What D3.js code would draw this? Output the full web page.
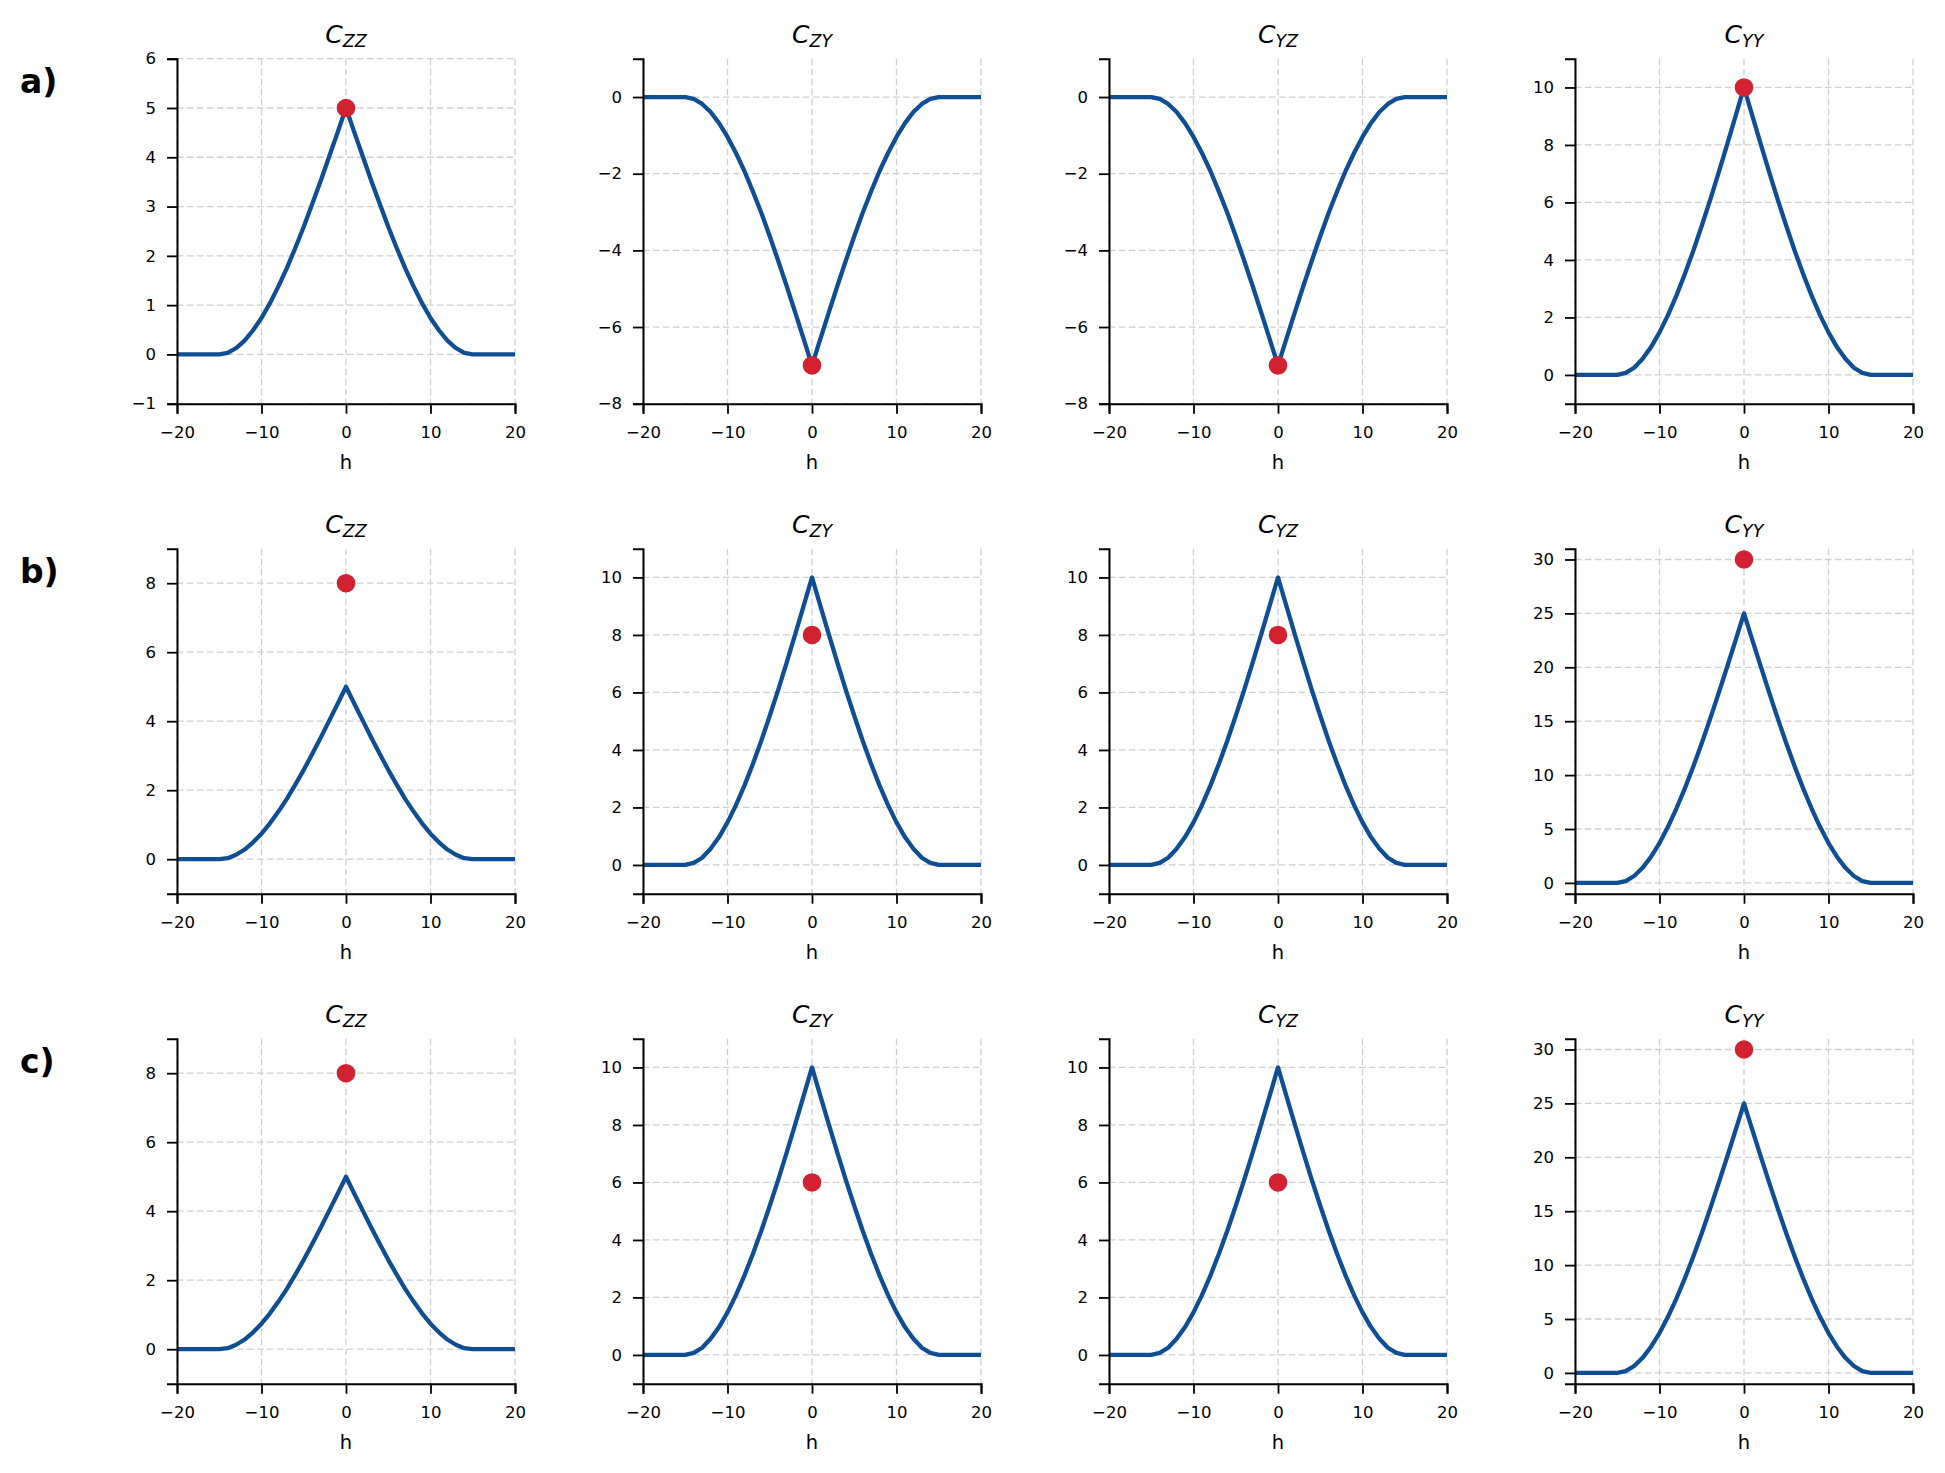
<!DOCTYPE html>
<html>
<head>
<meta charset="utf-8">
<script src="https://cdn.jsdelivr.net/npm/d3@7"></script>
<style>
  body { margin: 0; background: #fff; }
  svg { display: block; font-family: "DejaVu Sans", sans-serif; }
</style>
</head>
<body>
<div id="fig"></div>
<script>
// lag values shared by every curve
var hGrid = [-20, -15, -14, -13, -12, -11, -10, -9, -8, -7, -6, -5, -4, -3, -2, -1, 0,
             1, 2, 3, 4, 5, 6, 7, 8, 9, 10, 11, 12, 13, 14, 15, 20];

// covariance curves
var curveSill5 = [0, 0, 0.03, 0.13, 0.28, 0.49, 0.74, 1.04, 1.38, 1.75, 2.16, 2.59, 3.05, 3.52, 4.01, 4.50, 5,
                  4.50, 4.01, 3.52, 3.05, 2.59, 2.16, 1.75, 1.38, 1.04, 0.74, 0.49, 0.28, 0.13, 0.03, 0, 0];
var curveSill10 = [0, 0, 0.07, 0.25, 0.56, 0.97, 1.48, 2.08, 2.76, 3.51, 4.32, 5.19, 6.09, 7.04, 8.01, 9.00, 10,
                   9.00, 8.01, 7.04, 6.09, 5.19, 4.32, 3.51, 2.76, 2.08, 1.48, 0.97, 0.56, 0.25, 0.07, 0, 0];
var curveSillNeg7 = [0, 0, -0.05, -0.18, -0.39, -0.68, -1.04, -1.46, -1.93, -2.46, -3.02, -3.63, -4.27, -4.93, -5.61, -6.30, -7,
                     -6.30, -5.61, -4.93, -4.27, -3.63, -3.02, -2.46, -1.93, -1.46, -1.04, -0.68, -0.39, -0.18, -0.05, 0, 0];
var curveSill25 = [0, 0, 0.16, 0.64, 1.40, 2.43, 3.70, 5.20, 6.90, 8.77, 10.80, 12.96, 15.24, 17.60, 20.03, 22.50, 25,
                   22.50, 20.03, 17.60, 15.24, 12.96, 10.80, 8.77, 6.90, 5.20, 3.70, 2.43, 1.40, 0.64, 0.16, 0, 0];

var rowLabels = ["a)", "b)", "c)"];
var subscripts = ["ZZ", "ZY", "YZ", "YY"];

// which curve sits in each panel, row by row
var rowCurves = [
  [curveSill5, curveSillNeg7, curveSillNeg7, curveSill10],
  [curveSill5, curveSill10, curveSill10, curveSill25],
  [curveSill5, curveSill10, curveSill10, curveSill25]
];

// red point at h = 0
var rowPoints = [
  [5, -7, -7, 10],
  [8, 8, 8, 30],
  [8, 6, 6, 30]
];

var rowDomains = [
  [[-1, 6], [-8, 1], [-8, 1], [-1, 11]],
  [[-1, 9], [-1, 11], [-1, 11], [-1, 31]],
  [[-1, 9], [-1, 11], [-1, 11], [-1, 31]]
];

var rowTicks = [
  [[-1, 0, 1, 2, 3, 4, 5, 6], [-8, -6, -4, -2, 0], [-8, -6, -4, -2, 0], [0, 2, 4, 6, 8, 10]],
  [[0, 2, 4, 6, 8], [0, 2, 4, 6, 8, 10], [0, 2, 4, 6, 8, 10], [0, 5, 10, 15, 20, 25, 30]],
  [[0, 2, 4, 6, 8], [0, 2, 4, 6, 8, 10], [0, 2, 4, 6, 8, 10], [0, 5, 10, 15, 20, 25, 30]]
];

var xTicks = [-20, -10, 0, 10, 20];

var W = 1945, H = 1473;
var left0 = 177, colStep = 466, pw = 338;
var top0 = 58.7, rowStep = 490, ph = 345;
var blue = "#0f4e92";
var red = "#d22231";
var gridColor = "#cfcfcf";
var fmt = d3.format("d");

var svg = d3.select("#fig").append("svg")
  .attr("width", W)
  .attr("height", H);

rowLabels.forEach(function(lab, r) {
  svg.append("text")
    .attr("x", 20)
    .attr("y", top0 + r * rowStep + 34.6)
    .style("font-size", "33px")
    .style("font-weight", "bold")
    .text(lab);
});

for (var r = 0; r < 3; r++) {
  for (var c = 0; c < 4; c++) {
    drawPanel(r, c);
  }
}

function drawPanel(r, c) {
  var ox = left0 + c * colStep;
  var oy = top0 + r * rowStep;
  var g = svg.append("g").attr("transform", "translate(" + ox + "," + oy + ")");

  var x = d3.scaleLinear().domain([-20, 20]).range([0, pw]);
  var y = d3.scaleLinear().domain(rowDomains[r][c]).range([ph, 0]);
  var yt = rowTicks[r][c];

  // grid
  g.append("g").selectAll("line.vg")
    .data(xTicks)
    .enter()
    .append("line")
    .attr("x1", d => x(d))
    .attr("x2", d => x(d))
    .attr("y1", 0)
    .attr("y2", ph)
    .attr("stroke", gridColor)
    .attr("stroke-width", 1.3)
    .attr("stroke-dasharray", "6.5,3.5");

  g.append("g").selectAll("line.hg")
    .data(yt)
    .enter()
    .append("line")
    .attr("x1", 0)
    .attr("x2", pw)
    .attr("y1", d => y(d))
    .attr("y2", d => y(d))
    .attr("stroke", gridColor)
    .attr("stroke-width", 1.3)
    .attr("stroke-dasharray", "6.5,3.5");

  // curve
  var line = d3.line()
    .x((d, i) => x(hGrid[i]))
    .y(d => y(d));

  g.append("path")
    .datum(rowCurves[r][c])
    .attr("d", line)
    .attr("fill", "none")
    .attr("stroke", blue)
    .attr("stroke-width", 4.3)
    .attr("stroke-linejoin", "round");

  g.append("circle")
    .attr("cx", x(0))
    .attr("cy", y(rowPoints[r][c]))
    .attr("r", 9.3)
    .attr("fill", red);

  // axes
  var xAxis = g.append("g")
    .attr("transform", "translate(0," + ph + ")")
    .call(d3.axisBottom(x).tickValues(xTicks).tickFormat(fmt).tickSizeOuter(0).tickSize(10).tickPadding(12.5));
  var yAxis = g.append("g")
    .call(d3.axisLeft(y).tickValues(yt).tickFormat(fmt).tickSizeOuter(0).tickSize(10).tickPadding(11));

  [xAxis, yAxis].forEach(function(a) {
    a.select(".domain").attr("stroke", "#000").attr("stroke-width", 2);
    a.selectAll(".tick line").attr("stroke", "#000").attr("stroke-width", 1.8);
    a.selectAll(".tick text")
      .attr("fill", "#000")
      .style("font-family", "DejaVu Sans")
      .style("font-size", "16.5px");
  });

  g.append("text")
    .attr("x", pw / 2)
    .attr("y", ph + 65.5)
    .attr("text-anchor", "middle")
    .style("font-size", "19.5px")
    .text("h");

  var title = g.append("text")
    .attr("x", pw / 2)
    .attr("y", -15.4)
    .attr("text-anchor", "middle")
    .style("font-style", "italic");
  title.append("tspan")
    .style("font-size", "25px")
    .text("C");
  title.append("tspan")
    .attr("dy", 3.4)
    .style("font-size", "17.5px")
    .text(subscripts[c]);
}
</script>
</body>
</html>
